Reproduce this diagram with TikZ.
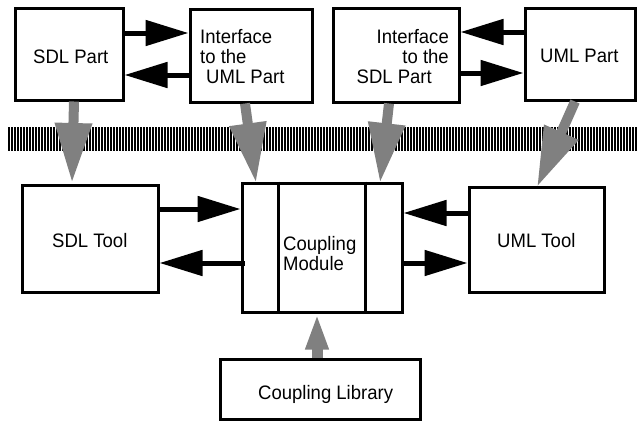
\documentclass[tikz,border=0pt]{standalone}
\usepackage{fontspec}
\setmainfont{Liberation Sans}[FakeStretch=0.95]
\usetikzlibrary{arrows.meta}
\definecolor{arrgray}{HTML}{808080}
\begin{document}
\begin{tikzpicture}[x=1pt,y=-1pt,
  box/.style={draw,line width=3pt,rectangle,inner sep=0pt},
  lbl/.style={inner sep=0pt,font=\fontsize{19.5}{20}\selectfont},
  blk/.style={line width=5pt,-{Triangle[length=43pt,width=25pt]}},
  gry/.style={draw=arrgray,line width=10pt,-{Triangle[length=60pt,width=35pt]}},
  gsmall/.style={draw=arrgray,line width=11pt,-{Triangle[length=36pt,width=21pt]}}]
\useasboundingbox (0,0) rectangle (637,421);
% hatched band
\foreach \i in {0,...,209}{
  \fill[black] ({8+3*\i},127) rectangle ({8+3*\i+2},151);
}
% boxes
\node[box,minimum width=108pt,minimum height=92pt] (sdlpart) at (69,54) {};
\node[box,minimum width=122pt,minimum height=93pt] (ifuml) at (251,55.5) {};
\node[box,minimum width=126pt,minimum height=94pt] (ifsdl) at (396,55) {};
\node[box,minimum width=110pt,minimum height=92pt] (umlpart) at (580,54) {};
\node[box,minimum width=136pt,minimum height=107pt] (sdltool) at (90,238.5) {};
\node[box,minimum width=160pt,minimum height=129pt] (cm) at (322,247.5) {};
\node[box,minimum width=135pt,minimum height=105pt] (umltool) at (536.5,239.5) {};
\node[box,minimum width=200pt,minimum height=60pt] (lib) at (320,389) {};
\draw[line width=3pt] (278,0 |- cm.north) -- (278,0 |- cm.south);
\draw[line width=3pt] (365,0 |- cm.north) -- (365,0 |- cm.south);
% texts
\node[lbl,anchor=base west] (tsdlpart) at (33,63) {SDL Part};
\node[lbl,anchor=base west,align=left] (tifuml) at (200,83) {Interface\\to the\\\hspace*{6pt}UML Part};
\node[lbl,anchor=base east,align=right] (tifsdl) at (449,83) {Interface\\to the\\SDL Part\hspace*{17pt}};
\node[lbl,anchor=base west] (tumlpart) at (540,62) {UML Part};
\node[lbl,anchor=base west] (tsdltool) at (52,247) {SDL Tool};
\node[lbl,anchor=base west] (tumltool) at (497,247) {UML Tool};
\node[lbl,anchor=base west,align=left] (tcm) at (283,270) {Coupling\\Module};
\node[lbl,anchor=base west] (tlib) at (258,399) {Coupling Library};
% black arrows
\draw[blk] (sdlpart.east |- 0,33) -- (ifuml.west |- 0,33);
\draw[blk] (ifuml.west |- 0,75) -- (sdlpart.east |- 0,75);
\draw[blk] (umlpart.west |- 0,32) -- (ifsdl.east |- 0,32);
\draw[blk] (ifsdl.east |- 0,73) -- (umlpart.west |- 0,73);
\draw[blk] (sdltool.east |- 0,209) -- (cm.west |- 0,209);
\draw[blk] (245,0 |- 0,263) -- (sdltool.east |- 0,263);
\draw[blk] (umltool.west |- 0,213) -- (cm.east |- 0,213);
\draw[blk] (cm.east |- 0,263) -- (umltool.west |- 0,263);
% gray arrows
\draw[gry] (74,0 |- sdlpart.south) -- (72,183);
\draw[gry] (245,0 |- ifuml.south) -- (256,183);
\draw[gry] (389,0 |- ifsdl.south) -- (380,183);
\draw[gry] (575,0 |- umlpart.south) -- (537,187);
\draw[gsmall] (317,0 |- lib.north) -- (317,0 |- cm.south);
\end{tikzpicture}
\end{document}
